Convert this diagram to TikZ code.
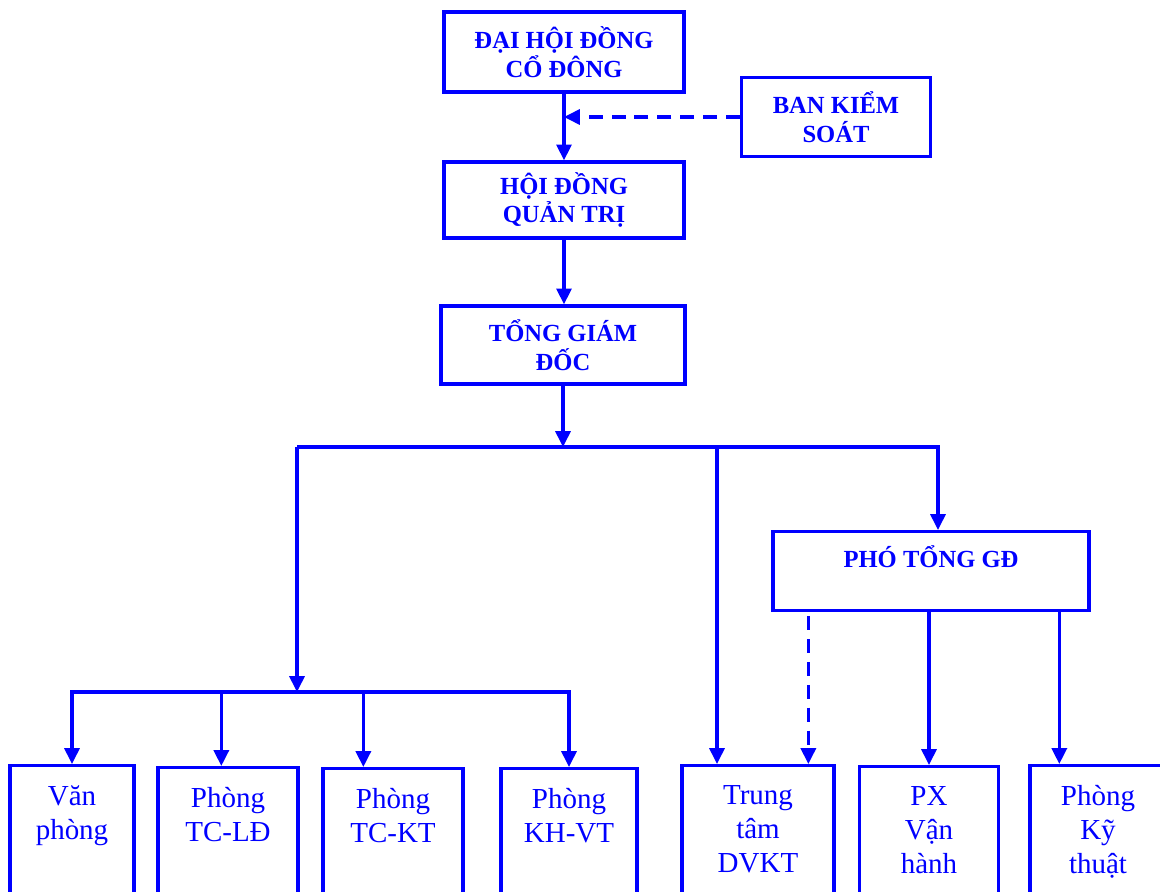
\documentclass[tikz,border=0pt]{standalone}
\usepackage{fontspec}
\setmainfont{Liberation Serif}
\usetikzlibrary{arrows.meta,positioning}
\definecolor{OrgBlue}{HTML}{0000FF}

\begin{document}
\begin{tikzpicture}[
    x=0.02cm,y=-0.02cm,
    headbox/.style={draw=OrgBlue,line width=1.9pt,text=OrgBlue,align=center,inner sep=0pt,
      font=\fontsize{14}{16.4}\selectfont\bfseries},
    unitbox/.style={draw=OrgBlue,line width=1.9pt,minimum height=3.2cm,anchor=north,inner sep=0pt},
    unittext/.style={text=OrgBlue,align=center,inner sep=0pt,font=\fontsize{16.5}{19.3}\selectfont},
    arrow/.style={-{Triangle[length=9pt,width=8.5pt]},line width=1.9pt,draw=OrgBlue},
    dasharrow/.style={arrow,dash pattern=on 8pt off 5pt}
]
\path[use as bounding box] (0,0) rectangle (1160,892);
\clip (0,0) rectangle (1160,892);

% upper levels
\node[headbox,minimum width=4.8cm,minimum height=1.6cm] (dhcd) at (564,52) {ĐẠI HỘI ĐỒNG\\CỔ ĐÔNG};
\node[headbox,minimum width=3.78cm,minimum height=1.58cm] (bks) at (836,117) {BAN KIỂM\\SOÁT};
\node[headbox,minimum width=4.8cm,minimum height=1.52cm] (hdqt) at (564,200) {HỘI ĐỒNG\\QUẢN TRỊ};
\node[headbox,minimum width=4.88cm,minimum height=1.56cm] (tgd) at (563,345) {TỔNG GIÁM\\ĐỐC};
\node[headbox,anchor=north,minimum width=6.32cm,text height=0.72cm,text depth=0.86cm] (ptgd) at (931,530) {PHÓ TỔNG GĐ};

% units
\node[unitbox,minimum width=2.48cm] (vp) at (72,764) {};
\node[unittext,below=0.42cm of vp.north] (vpt) {Văn\\phòng};
\node[unitbox,minimum width=2.8cm] (tcld) at (228,766) {};
\node[unittext,below=0.42cm of tcld.north] (tcldt) {Phòng\\TC-LĐ};
\node[unitbox,minimum width=2.8cm] (tckt) at (393,767) {};
\node[unittext,below=0.42cm of tckt.north] (tcktt) {Phòng\\TC-KT};
\node[unitbox,minimum width=2.72cm] (khvt) at (569,767) {};
\node[unittext,below=0.42cm of khvt.north] (khvtt) {Phòng\\KH-VT};
\node[unitbox,minimum width=3.04cm] (ttdv) at (758,764) {};
\node[unittext,below=0.42cm of ttdv.north] (ttdvt) {Trung\\tâm\\DVKT};
\node[unitbox,minimum width=2.78cm] (pxvh) at (929,765) {};
\node[unittext,below=0.42cm of pxvh.north] (pxvht) {PX\\Vận\\hành};
\node[unitbox,minimum width=2.72cm] (ktt) at (1098,764) {};
\node[unittext,below=0.42cm of ktt.north] (kttt) {Phòng\\Kỹ\\thuật};

\coordinate (busA) at (563,447);
\coordinate (busL) at (297,447);
\coordinate (busB) at (297,692);
\coordinate (tap) at (717,447);
\coordinate (dsh) at ([xshift=0.74cm,yshift=-0.08cm]ptgd.south west);
\coordinate (ktin) at ([xshift=5.76cm]ptgd.south west);

% connectors
\draw[arrow] (dhcd.south) -- (dhcd.south |- hdqt.north);
\draw[dasharrow] (bks.west) -- (bks.west -| dhcd.south);
\draw[arrow] (hdqt.south) -- (hdqt.south |- tgd.north);
\draw[arrow] (tgd.south) -- (busA);
\draw[arrow] (busL) -| ([xshift=0.14cm]ptgd.north);
\draw[arrow] (busL) -- (busB);
\draw[arrow] (tap) -- (tap |- ttdv.north);
\draw[arrow] (busB) -| (vp.north);
\draw[arrow] (busB) -| ([xshift=1.3cm]tcld.north west);
\draw[arrow] (busB) -| ([xshift=0.84cm]tckt.north west);
\draw[arrow] (busB) -| (khvt.north);
\draw[dasharrow] (dsh) -- (dsh |- ttdv.north);
\draw[arrow] (ptgd.south -| pxvh.north) -- (pxvh.north);
\draw[arrow] (ktin) -- (ktin |- ktt.north);
\end{tikzpicture}
\end{document}
